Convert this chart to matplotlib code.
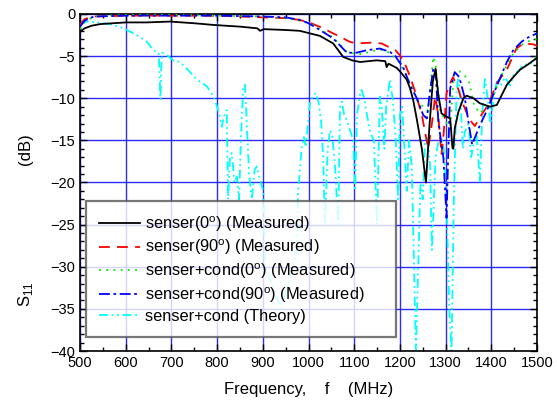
import numpy as np
import matplotlib.pyplot as plt
from matplotlib.ticker import MultipleLocator

plt.rcParams['font.family'] = ['Liberation Sans', 'DejaVu Sans']
plt.rcParams['mathtext.fontset'] = 'custom'
plt.rcParams['mathtext.rm'] = 'Liberation Sans'

# senser(0) measured
f_s0 = [500, 510, 525, 544, 600, 646, 697, 750, 792, 850, 888, 894, 902, 950, 981, 1003, 1025,
        1054, 1076, 1095, 1113, 1149, 1168, 1171, 1175, 1193, 1200, 1215, 1222, 1229, 1237,
        1248, 1257, 1265, 1272, 1278, 1284, 1291, 1302, 1310, 1315, 1317, 1320, 1328, 1339,
        1346, 1361, 1375, 1397, 1412, 1434, 1448, 1463, 1480, 1500]
s_s0 = [-2.1, -1.7, -1.4, -1.2, -1.0, -1.0, -0.9, -1.1, -1.3, -1.5, -1.7, -2.0, -1.8, -1.9, -2.0,
        -2.3, -2.6, -3.5, -5.1, -5.5, -5.7, -5.5, -5.6, -6.3, -5.9, -6.4, -6.8, -7.8, -8.8, -10.2,
        -12.5, -16.0, -20.0, -13.0, -8.0, -6.5, -9.6, -11.8, -12.2, -12.4, -15.9, -16.0, -13.6,
        -11.6, -10.0, -9.7, -10.0, -10.6, -11.0, -10.8, -8.4, -7.5, -6.6, -6.0, -5.2]

# senser(90) measured
f_s90 = [500, 510, 530, 600, 700, 800, 850, 900, 950, 980, 1006, 1032, 1050, 1069, 1090, 1105,
         1138, 1160, 1171, 1190, 1200, 1210, 1222, 1235, 1248, 1262, 1270, 1277, 1284, 1291,
         1296, 1302, 1310, 1316, 1325, 1339, 1352, 1364, 1378, 1393, 1412, 1434, 1455, 1470,
         1492, 1500]
s_s90 = [-1.3, -0.6, -0.3, -0.2, -0.2, -0.2, -0.3, -0.4, -0.5, -0.7, -1.1, -1.7, -2.2, -2.7,
         -3.3, -3.5, -3.4, -3.5, -3.8, -4.3, -4.9, -5.8, -7.4, -9.5, -12.0, -16.0, -13.0, -9.8,
         -12.0, -16.7, -14.0, -9.4, -8.2, -7.5, -8.5, -10.8, -12.5, -13.3, -12.0, -10.8, -8.2,
         -6.6, -4.1, -3.5, -3.6, -3.8]

# senser+cond(0) measured
f_c0 = [500, 510, 530, 600, 700, 800, 900, 950, 1000, 1025, 1054, 1084, 1110, 1127, 1156, 1178,
        1200, 1222, 1240, 1262, 1268, 1273, 1278, 1288, 1300, 1310, 1318, 1330, 1345, 1351, 1362,
        1375, 1390, 1404, 1420, 1448, 1470, 1492, 1500]
s_c0 = [-1.8, -0.9, -0.3, -0.1, -0.1, -0.2, -0.3, -0.5, -1.0, -1.8, -2.8, -4.5, -4.8, -4.6, -4.2,
        -4.6, -5.8, -8.2, -10.5, -11.5, -8.0, -5.1, -6.0, -11.4, -12.8, -13.4, -7.2, -6.8, -7.5,
        -8.0, -10.8, -11.8, -11.0, -9.8, -7.5, -4.7, -3.5, -3.0, -3.0]

# senser+cond(90) measured
f_c90 = [500, 510, 530, 600, 700, 800, 900, 950, 981, 1000, 1025, 1054, 1070, 1084, 1105, 1127,
         1156, 1178, 1190, 1200, 1207, 1222, 1237, 1251, 1259, 1265, 1273, 1278, 1284, 1295, 1300,
         1302, 1305, 1310, 1320, 1330, 1342, 1352, 1358, 1375, 1390, 1404, 1420, 1434, 1448, 1466,
         1480, 1492, 1500]
s_c90 = [-1.5, -0.8, -0.3, -0.2, -0.2, -0.2, -0.3, -0.4, -0.7, -1.1, -1.9, -2.9, -3.8, -4.6, -4.6,
         -4.3, -4.1, -4.5, -5.0, -5.8, -6.3, -8.4, -10.0, -12.0, -12.4, -9.5, -6.5, -6.5, -12.8,
         -17.0, -22.0, -24.2, -18.0, -8.8, -6.9, -7.5, -10.0, -13.5, -15.5, -13.2, -11.5, -9.6,
         -7.5, -5.7, -4.3, -3.3, -2.8, -2.5, -2.3]

# senser+cond theory
f_th = [500, 515, 540, 566, 595, 624, 646, 661, 672, 674, 676, 678, 680, 693, 704, 719, 734, 756,
        778, 792, 800, 806, 810, 816, 821, 824, 828, 832, 838, 843, 848, 852, 857, 861, 865, 870,
        876, 882, 887, 893, 901, 905, 940, 975, 977, 985, 990, 994, 1003, 1010, 1016, 1022, 1028,
        1032, 1036, 1042, 1047, 1052, 1058, 1065, 1069, 1073, 1078, 1084, 1092, 1098, 1102, 1106,
        1113, 1116, 1122, 1128, 1135, 1143, 1150, 1156, 1160, 1166, 1170, 1178, 1184, 1190, 1196,
        1200, 1205, 1210, 1215, 1220, 1226, 1230, 1235, 1240, 1245, 1250, 1255, 1260, 1266, 1270,
        1273, 1278, 1285, 1290, 1296, 1302, 1308, 1313, 1318, 1324, 1328, 1332, 1338, 1342, 1350,
        1356, 1362, 1368, 1375, 1380, 1386, 1392, 1398, 1405, 1412, 1420, 1430, 1441, 1450, 1460,
        1470, 1480, 1491, 1500]
s_th = [-1.2, -0.9, -1.0, -1.2, -1.7, -2.5, -3.3, -4.3, -4.6, -7.0, -10.2, -6.0, -4.6, -5.0, -5.5,
        -5.7, -6.5, -7.8, -8.6, -9.8, -11.0, -12.2, -13.4, -12.0, -11.4, -22.0, -17.0, -16.5,
        -20.0, -19.3, -22.0, -15.0, -8.6, -8.4, -13.0, -19.0, -22.0, -18.5, -18.1, -19.5, -21.0,
        -30.0, -35.0, -28.0, -21.3, -15.8, -14.6, -15.8, -10.6, -9.6, -9.4, -10.5, -13.0, -17.0,
        -25.0, -16.0, -13.8, -14.5, -18.0, -25.0, -11.0, -10.4, -12.0, -12.6, -14.0, -15.0, -21.0,
        -12.0, -9.4, -9.0, -10.0, -12.0, -14.0, -15.0, -25.0, -9.8, -11.0, -16.0, -11.0, -7.8,
        -10.0, -14.0, -22.0, -12.0, -11.0, -16.0, -21.0, -15.0, -18.0, -28.0, -40.0, -30.0, -20.0,
        -22.0, -15.0, -14.5, -18.0, -28.0, -24.0, -17.0, -15.0, -14.6, -16.0, -22.0, -35.0, -40.0,
        -22.0, -9.0, -7.5, -10.0, -16.0, -14.0, -13.0, -17.0, -15.0, -14.5, -20.0, -12.0, -7.5,
        -10.0, -13.0, -10.0, -8.0, -8.5, -7.5, -8.5, -7.0, -6.8, -6.0, -6.0, -5.8, -5.0]

fig = plt.figure(figsize=(5.58, 4.03), dpi=100)
ax = fig.add_axes([0.1434, 0.129, 0.819, 0.8363])

lw = 1.3
ax.plot(f_th, s_th, color='#00ffff', lw=lw, ls=(0, (5, 2, 1, 2, 1, 2)), zorder=2,
        label='senser+cond (Theory)')
ax.plot(f_s0, s_s0, color='black', lw=lw, ls='-', zorder=4,
        label='senser(0$^\\mathrm{o}$) (Measured)')
ax.plot(f_s90, s_s90, color='#ff0000', lw=lw, ls=(0, (6, 4)), zorder=3,
        label='senser(90$^\\mathrm{o}$) (Measured)')
ax.plot(f_c0, s_c0, color='#00ee00', lw=lw, ls=(0, (1, 3)), zorder=3,
        label='senser+cond(0$^\\mathrm{o}$) (Measured)')
ax.plot(f_c90, s_c90, color='#0000ff', lw=lw, ls=(0, (6, 2, 1.5, 2)), zorder=3,
        label='senser+cond(90$^\\mathrm{o}$) (Measured)')

ax.set_xlim(500, 1500)
ax.set_ylim(-40, 0)
ax.xaxis.set_major_locator(MultipleLocator(100))
ax.xaxis.set_minor_locator(MultipleLocator(50))
ax.yaxis.set_major_locator(MultipleLocator(5))
ax.yaxis.set_minor_locator(MultipleLocator(1))
ax.tick_params(which='both', direction='in', top=True, right=True, labelsize=10.5, width=1)
ax.tick_params(which='major', length=5)
ax.tick_params(which='minor', length=3)
ax.grid(True, which='major', color='#1515ff', lw=1, alpha=0.9, zorder=1)
for s in ax.spines.values():
    s.set_linewidth(1.2)

handles, labels = ax.get_legend_handles_labels()
order = [1, 2, 3, 4, 0]
leg = ax.legend([handles[i] for i in order], [labels[i] for i in order],
                loc='lower left', bbox_to_anchor=(0.0131, 0.0415, 0.678, 0.3976),
                mode='expand', borderaxespad=0, fontsize=11.8,
                frameon=True, fancybox=False, handlelength=2.5, handletextpad=0.3,
                labelspacing=0.25, borderpad=0.8)
leg.get_frame().set_edgecolor('#555555')
leg.get_frame().set_linewidth(1.6)
leg.set_zorder(10)

ax.set_xlabel('Frequency,    f    (MHz)', fontsize=12, labelpad=9)
fig.text(0.045, 0.27, 'S$_{11}$', rotation=90, fontsize=12, ha='center', va='center')
fig.text(0.045, 0.63, '(dB)', rotation=90, fontsize=12, ha='center', va='center')

fig.savefig('out.png', dpi=100)
